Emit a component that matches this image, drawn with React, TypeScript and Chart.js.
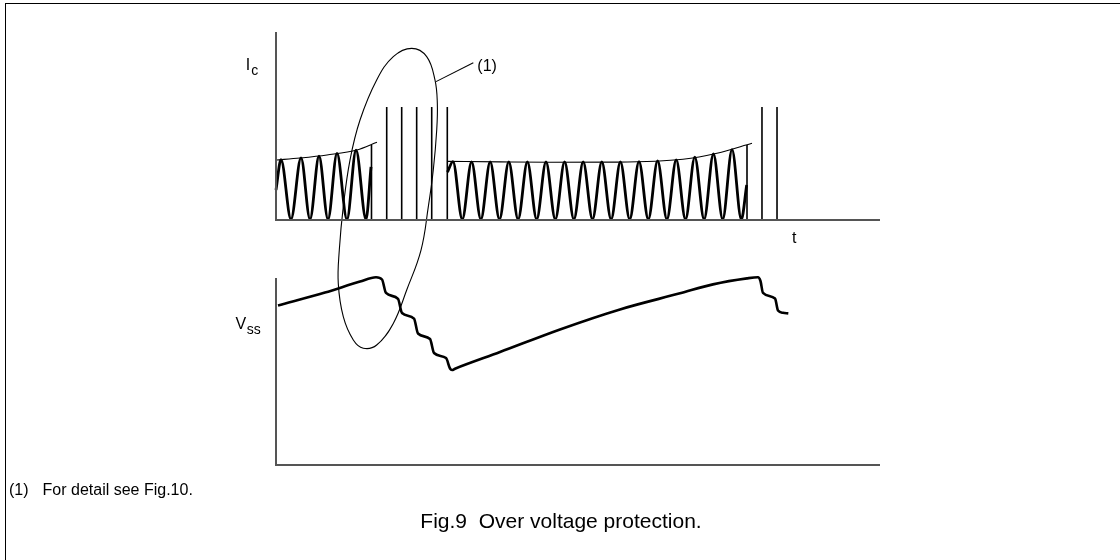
import React, { useEffect, useRef } from "react";
import { Chart, registerables } from "chart.js";

Chart.register(...registerables);

// ---- axis extents (time units 0..100, each panel's value units 0..100) ----
const T_END = 100;
const IC_TOP = 100;
const VSS_TOP = 100;

// ---- Ic: first oscillation burst (peaks / troughs) ----
const burst1T = [0, 0.83, 2.48, 4.14, 5.63, 7.12, 8.61, 10.1, 11.75, 13.25, 14.9, 15.73];
const burst1Ic = [16.0, 32.1, 0.4, 33.0, 0.4, 33.9, 0.4, 35.4, 0.4, 37.1, 0.4, 28.2];

// ---- Ic: envelope of first burst ----
const env1T = [0, 3.97, 8.44, 13.41, 16.72];
const env1Ic = [31.9, 33.0, 34.6, 37.2, 41.3];

// ---- Ic: narrow pulses ----
const spikeT = [15.81, 18.33, 20.81, 23.29, 25.78, 28.36, 77.98, 80.46, 82.95];
const spikeIc = [39.9, 60.1, 60.1, 60.1, 60.1, 60.1, 39.9, 60.1, 60.1];

// ---- Ic: second oscillation burst ----
const burst2T = [
  28.39, 29.3, 30.84, 32.38, 33.92, 35.46, 37.0, 38.54, 40.08, 41.62, 43.16, 44.7,
  46.24, 47.78, 49.32, 50.86, 52.4, 53.94, 55.48, 57.02, 58.56, 60.1, 61.64, 63.18,
  64.72, 66.26, 67.8, 69.34, 70.88, 72.42, 73.96, 75.5, 77.04, 77.93,
];
const burst2Ic = [
  25.5, 31.1, 0.4, 30.9, 0.4, 30.9, 0.4, 30.9, 0.4, 30.9, 0.4, 30.9,
  0.4, 30.9, 0.4, 30.9, 0.4, 30.9, 0.4, 30.9, 0.4, 31.0, 0.4, 31.4,
  0.4, 32.0, 0.4, 33.4, 0.4, 35.1, 0.4, 37.4, 0.4, 18.6,
];

// ---- Ic: envelope of second burst ----
const env2T = [28.31, 37.09, 45.36, 56.46, 67.38, 73.01, 78.81];
const env2Ic = [31.2, 30.9, 30.7, 30.8, 32.3, 35.5, 40.8];

// ---- Vss waveform ----
const vssT = [
  0.33, 8.11, 13.91, 16.56, 17.55, 18.21, 20.2, 20.86, 22.85, 23.51, 25.5, 26.16,
  28.15, 28.81, 29.14, 29.64, 37.09, 47.02, 56.95, 66.89, 72.35, 77.98, 79.8, 80.21,
  80.63, 82.62, 83.11, 83.94, 84.82,
];
const vssV = [
  85.3, 92.2, 98.1, 100.4, 99.2, 92.0, 88.8, 81.3, 78.3, 70.3, 67.4, 59.9,
  57.2, 51.6, 50.8, 51.5, 60.4, 72.5, 83.2, 91.8, 96.6, 99.8, 100.4, 98.4,
  92.0, 89.0, 82.6, 81.4, 81.1,
];

// ---- annotation ellipse "(1)" (in Ic units, crosses into lower panel) ----
const ellipseT = [
  22.47, 24.95, 26.32, 26.71, 26.61, 26.04, 25.22, 24.01, 21.64, 19.42, 16.67,
  14.45, 12.8, 11.14, 10.31, 10.48, 11.14, 12.25, 13.91, 16.67, 19.42,
];
const ellipseIc = [
  91.3, 86.9, 74.5, 62.1, 47.9, 26.6, 7.1, -16.0, -37.2, -55.0, -66.5,
  -68.2, -63.8, -51.4, -33.7, -16.0, 7.1, 31.9, 53.2, 74.5, 86.9,
];

// ---- leader line to label "(1)" ----
const leaderT = [26.49, 32.67];
const leaderIc = [73.6, 83.7];

// ---- layout geometry (px) ----
const PAD = { left: 276, right: 240, top: 32, bottom: 95 };
const PLOT_H = 560 - PAD.top - PAD.bottom;
const IC_PANEL_PX = 188;
const VSS_PANEL_PX = 187;

const FONT = '"Liberation Sans", Arial, Helvetica, sans-serif';

const pts = (xs: number[], ys: (number | null)[]) => xs.map((x, i) => ({ x, y: ys[i] }));

export default function App() {
  const ref = useRef<HTMLCanvasElement | null>(null);

  useEffect(() => {
    if (!ref.current) return;
    const base = {
      pointRadius: 0,
      pointHoverRadius: 0,
      fill: false,
      clip: false as const,
      borderColor: "#000",
      spanGaps: false,
    };

    const spikeData: { x: number; y: number | null }[] = [];
    spikeT.forEach((t, i) => {
      spikeData.push({ x: t, y: 0 }, { x: t, y: spikeIc[i] }, { x: t, y: null });
    });

    const ell = pts(ellipseT, ellipseIc);
    const n = ell.length;
    const ellData = [...ell, ell[0], ell[1], ell[2]];

    const datasets: any[] = [
      {
        ...base,
        label: "Ic axis",
        yAxisID: "yIc",
        data: [{ x: 0, y: IC_TOP }, { x: 0, y: 0 }, { x: T_END, y: 0 }],
        borderColor: "#555",
        borderWidth: 2,
        tension: 0,
      },
      {
        ...base,
        label: "Vss axis",
        yAxisID: "yV",
        data: [{ x: 0, y: VSS_TOP }, { x: 0, y: 0 }, { x: T_END, y: 0 }],
        borderColor: "#555",
        borderWidth: 2,
        tension: 0,
      },
      {
        ...base,
        label: "Ic burst 1",
        yAxisID: "yIc",
        data: pts(burst1T, burst1Ic),
        borderWidth: 2.8,
        cubicInterpolationMode: "monotone",
      },
      {
        ...base,
        label: "Ic burst 2",
        yAxisID: "yIc",
        data: pts(burst2T, burst2Ic),
        borderWidth: 2.8,
        cubicInterpolationMode: "monotone",
      },
      {
        ...base,
        label: "Ic pulses",
        yAxisID: "yIc",
        data: spikeData,
        borderWidth: 1.6,
        tension: 0,
      },
      {
        ...base,
        label: "envelope 1",
        yAxisID: "yIc",
        data: pts(env1T, env1Ic),
        borderWidth: 1.1,
        cubicInterpolationMode: "monotone",
      },
      {
        ...base,
        label: "envelope 2",
        yAxisID: "yIc",
        data: pts(env2T, env2Ic),
        borderWidth: 1.1,
        cubicInterpolationMode: "monotone",
      },
      {
        ...base,
        label: "Vss",
        yAxisID: "yV",
        data: pts(vssT, vssV),
        borderWidth: 2.6,
        cubicInterpolationMode: "monotone",
      },
      {
        ...base,
        label: "detail (1)",
        yAxisID: "yIc",
        data: ellData,
        borderWidth: 1.1,
        tension: 0.4,
        segment: {
          borderColor: (ctx: any) =>
            ctx.p0DataIndex === 0 || ctx.p0DataIndex === n + 1 ? "rgba(0,0,0,0)" : "#000",
        },
      },
      {
        ...base,
        label: "leader",
        yAxisID: "yIc",
        data: pts(leaderT, leaderIc),
        borderWidth: 1.1,
        tension: 0,
      },
    ];

    const chart = new Chart(ref.current, {
      type: "line",
      data: { datasets },
      options: {
        responsive: false,
        animation: false,
        events: [],
        layout: { padding: PAD },
        plugins: { legend: { display: false }, tooltip: { enabled: false }, title: { display: false } },
        scales: {
          x: { type: "linear", min: 0, max: T_END, display: false, bounds: "data" },
          yIc: {
            type: "linear",
            position: "left",
            display: false,
            bounds: "data",
            max: IC_TOP,
            min: IC_TOP - (IC_TOP * PLOT_H) / IC_PANEL_PX,
          },
          yV: {
            type: "linear",
            position: "left",
            display: false,
            bounds: "data",
            min: 0,
            max: (VSS_TOP * PLOT_H) / VSS_PANEL_PX,
          },
        },
      } as any,
    });
    return () => chart.destroy();
  }, []);

  const txt: React.CSSProperties = {
    position: "absolute",
    fontFamily: FONT,
    color: "#000",
    lineHeight: 1,
    whiteSpace: "pre",
  };

  return (
    <div
      style={{
        position: "absolute",
        left: 0,
        top: 0,
        width: 1120,
        height: 560,
        overflow: "hidden",
        background: "#fff",
      }}
    >
      <div
        style={{
          position: "absolute",
          left: 5,
          top: 3,
          width: 1115,
          height: 557,
          boxSizing: "border-box",
          borderLeft: "1.5px solid #000",
          borderTop: "1.5px solid #000",
        }}
      />
      <canvas
        ref={ref}
        width={1120}
        height={560}
        style={{ position: "absolute", left: 0, top: 0, display: "block" }}
      />
      <div style={{ ...txt, left: 245.8, top: 56.5, fontSize: 16 }}>
        I
        <span style={{ fontSize: 14, position: "relative", top: 5, marginLeft: 1 }}>c</span>
      </div>
      <div style={{ ...txt, left: 235.5, top: 315.8, fontSize: 16 }}>
        V
        <span style={{ fontSize: 14, position: "relative", top: 5.7, marginLeft: 0.5 }}>ss</span>
      </div>
      <div style={{ ...txt, left: 792, top: 229.8, fontSize: 16 }}>t</div>
      <div style={{ ...txt, left: 477.3, top: 58, fontSize: 16 }}>(1)</div>
      <div style={{ ...txt, left: 9, top: 481.5, fontSize: 16 }}>
        (1)<span style={{ marginLeft: 14 }}>For detail see Fig.10.</span>
      </div>
      <div style={{ ...txt, left: 261, width: 600, top: 509.5, fontSize: 21, textAlign: "center" }}>
        {"Fig.9  Over voltage protection."}
      </div>
    </div>
  );
}
